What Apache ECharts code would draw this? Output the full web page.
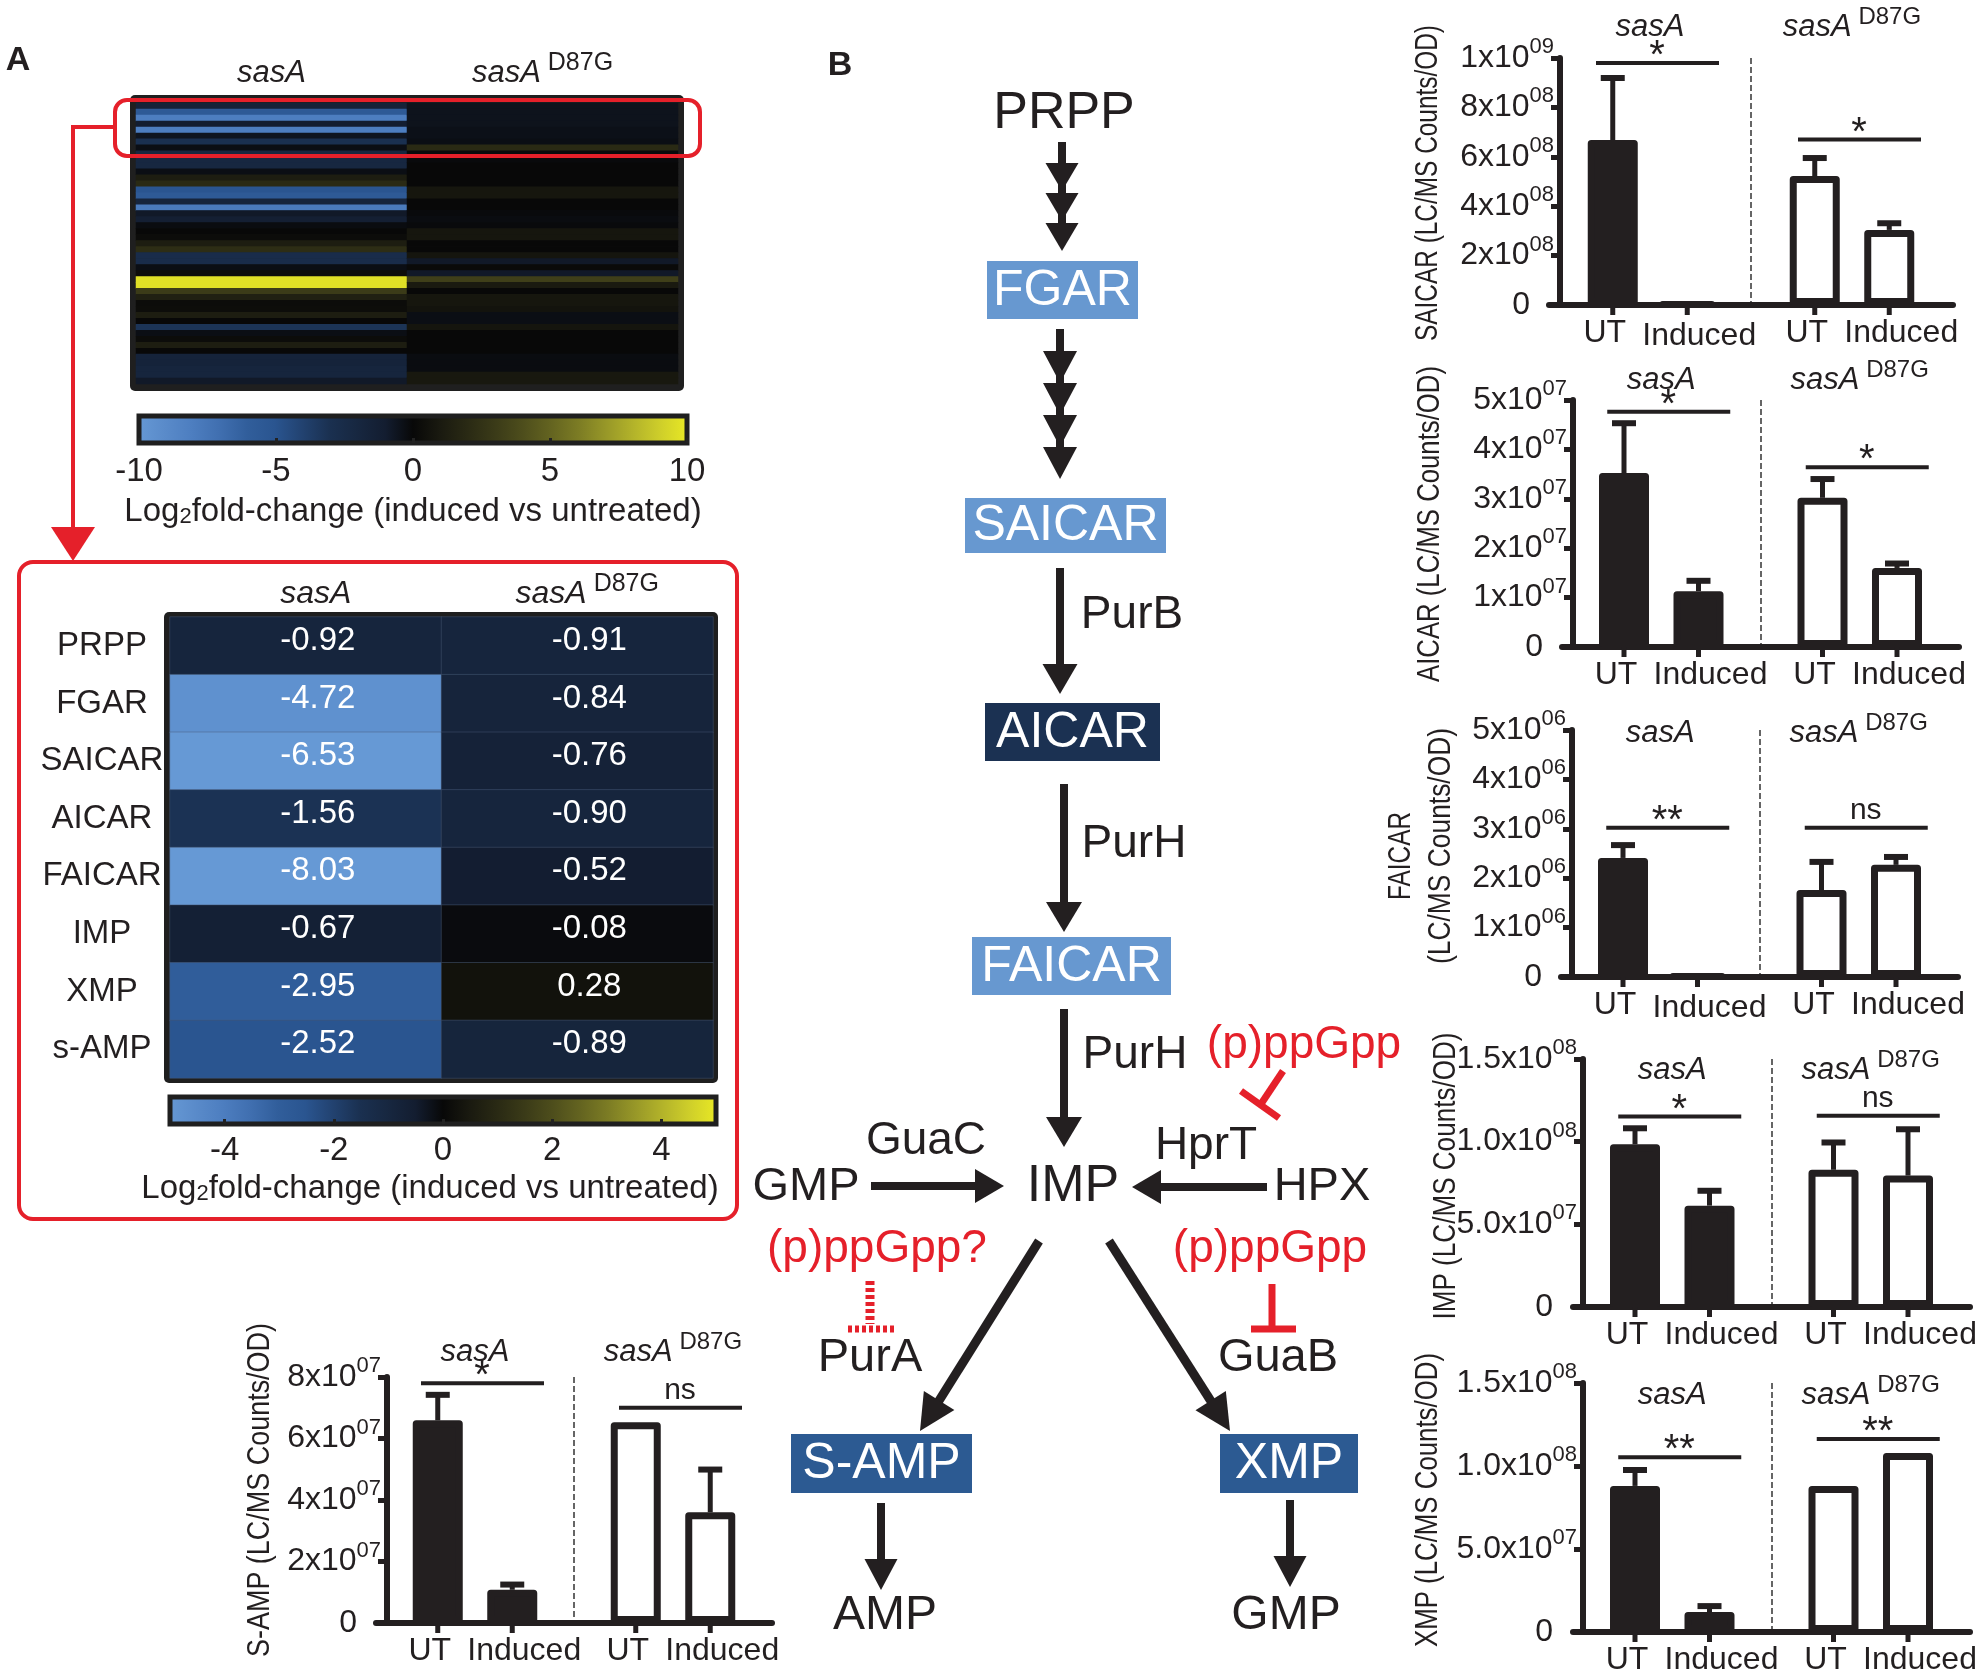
<!DOCTYPE html>
<html>
<head>
<meta charset="utf-8">
<script src="https://cdn.jsdelivr.net/npm/echarts@6/dist/echarts.min.js"></script>
<style>html,body{margin:0;padding:0;background:#fff}#c{width:1979px;height:1674px}</style>
</head>
<body>
<div id="c"></div>
<script>
// ================= DATA =================
const groups = ['sasA', 'sasA D87G'];
const conditions = ['UT', 'Induced'];

// Panel A overview heatmap (log2 fold-change, induced vs untreated), top to bottom
const overviewSasA = [-1.5, -5.5, -8.0, -1.0, -8.0, -0.6, -3.0, -0.3, -2.0, -2.0, -2.0, -0.3, 1.2, 2.0, -5.0, -5.5,
  -1.8, -7.8, -0.8, -1.2, -0.2, 0.0, 0.2, 1.2, 2.2, -2.6, -2.6, -0.3, 0.3, 9.6, 9.6, 3.0, 1.4, 0.2, 0.3, 1.2, 0.0,
  -3.2, -0.3, 0.2, 1.2, 0.0, -1.6, -1.6, -1.8, -1.8, -0.8];
const overviewD87G = [-0.5, -0.5, -0.5, -0.5, -0.4, -0.4, -0.3, 2.0, -0.1, -0.1, 0.0, 0.0, 0.0, 0.0, 0.8, 0.8,
  0.0, 0.0, -0.1, -0.2, -0.1, 0.8, 0.8, 0.0, 0.0, 0.7, -0.8, 0.1, -0.8, 3.2, 1.0, 0.0, 0.8, 0.8, 0.6, -0.3, -0.3,
  0.7, 0.0, 0.0, 0.0, 0.0, -0.2, -0.2, -0.2, 0.9, 0.9];
const overviewRows = overviewSasA.map((_, i) => 'metabolite ' + (i + 1));
const overviewScaleTicks = [-10, -5, 0, 5, 10];

// Panel A pathway heatmap
const pathwayMetabolites = ['PRPP', 'FGAR', 'SAICAR', 'AICAR', 'FAICAR', 'IMP', 'XMP', 's-AMP'];
const pathwaySasA = [-0.92, -4.72, -6.53, -1.56, -8.03, -0.67, -2.95, -2.52];
const pathwayD87G = [-0.91, -0.84, -0.76, -0.90, -0.52, -0.08, 0.28, -0.89];
const pathwayScaleTicks = [-4, -2, 0, 2, 4];

// Bar charts: values per group [sasA, sasA D87G]
const saicarUT = [6.68e8, 5.22e8], saicarUTErr = [2.51e8, 0.73e8];
const saicarInd = [0.04e8, 3.04e8], saicarIndErr = [0, 0.27e8];
const saicarSig = [9.8e8, 6.7e8], saicarSigText = ['*', '*'];

const aicarUT = [3.52e7, 3.02e7], aicarUTErr = [1.01e7, 0.38e7];
const aicarInd = [1.13e7, 1.60e7], aicarIndErr = [0.21e7, 0.09e7];
const aicarSig = [4.76e7, 3.64e7], aicarSigText = ['*', '*'];

const faicarUT = [2.41e6, 1.76e6], faicarUTErr = [0.26e6, 0.57e6];
const faicarInd = [0.02e6, 2.27e6], faicarIndErr = [0, 0.16e6];
const faicarSig = [3.02e6, 3.02e6], faicarSigText = ['**', 'ns'];

const impUT = [0.984e8, 0.83e8], impUTErr = [0.097e8, 0.165e8];
const impInd = [0.613e8, 0.795e8], impIndErr = [0.09e8, 0.28e8];
const impSig = [1.152e8, 1.156e8], impSigText = ['*', 'ns'];

const xmpUT = [0.88e8, 0.88e8], xmpUTErr = [0.096e8, 0];
const xmpInd = [0.12e8, 1.078e8], xmpIndErr = [0.036e8, 0];
const xmpSig = [1.052e8, 1.163e8], xmpSigText = ['**', '**'];

const sampUT = [6.59e7, 6.53e7], sampUTErr = [0.83e7, 0];
const sampInd = [1.08e7, 3.6e7], sampIndErr = [0.17e7, 1.39e7];
const sampSig = [7.8e7, 7.0e7], sampSigText = ['*', 'ns'];

// ================= STYLE / LAYOUT =================
const INK = '#231f20';
const RED = '#e5202a';
const FONT = '"Liberation Sans", Arial, Helvetica, sans-serif';
const heatColors = ['#6699d5', '#5a8bca', '#4d7ec0', '#406fb0', '#315e9b', '#2a5590', '#224270', '#1a3050',
  '#172740', '#131d30', '#080808', '#1a1a10', '#2a2a14', '#3b3b18', '#4e4e1c', '#646420', '#7c7c24', '#989828',
  '#b4b42a', '#d0d02a', '#eaea24'];
const gradient = {
  type: 'linear', x: 0, y: 0, x2: 1, y2: 0,
  colorStops: heatColors.map((c, i) => ({ offset: i / (heatColors.length - 1), color: c }))
};
const BAR_W = 50, BAR_GAP = 0.49, BAR_STEP = BAR_W * (1 + BAR_GAP);

const barPanels = [
  { title: ['SAICAR (LC/MS Counts/OD)'], ut: saicarUT, utErr: saicarUTErr, ind: saicarInd, indErr: saicarIndErr, sig: saicarSig, sigText: saicarSigText, max: 1e9, interval: 2e8, dec: 0 },
  { title: ['AICAR (LC/MS Counts/OD)'], ut: aicarUT, utErr: aicarUTErr, ind: aicarInd, indErr: aicarIndErr, sig: aicarSig, sigText: aicarSigText, max: 5e7, interval: 1e7, dec: 0 },
  { title: ['FAICAR', '(LC/MS Counts/OD)'], ut: faicarUT, utErr: faicarUTErr, ind: faicarInd, indErr: faicarIndErr, sig: faicarSig, sigText: faicarSigText, max: 5e6, interval: 1e6, dec: 0 },
  { title: ['IMP (LC/MS Counts/OD)'], ut: impUT, utErr: impUTErr, ind: impInd, indErr: impIndErr, sig: impSig, sigText: impSigText, max: 1.5e8, interval: 5e7, dec: 1 },
  { title: ['XMP (LC/MS Counts/OD)'], ut: xmpUT, utErr: xmpUTErr, ind: xmpInd, indErr: xmpIndErr, sig: xmpSig, sigText: xmpSigText, max: 1.5e8, interval: 5e7, dec: 1 },
  { title: ['S-AMP (LC/MS Counts/OD)'], ut: sampUT, utErr: sampUTErr, ind: sampInd, indErr: sampIndErr, sig: sampSig, sigText: sampSigText, max: 8e7, interval: 2e7, dec: 0 }
];
// grid placement; titles: [x, y, length] per line of the rotated y-axis title
const barLayout = [
  { left: 1549, top: 58, width: 404, height: 247, off: -11, titleMargin: 31, titles: [[1428, 183, 316]] },
  { left: 1562, top: 400, width: 397, height: 247, off: -11, titleMargin: 20, titles: [[1430, 524, 316]] },
  { left: 1561, top: 730, width: 397, height: 247, off: -11, titleMargin: -3, titles: [[1401, 856, 88], [1441, 846, 236]] },
  { left: 1573, top: 1059, width: 397, height: 248, off: -10, titleMargin: -11, titles: [[1446, 1176, 287]] },
  { left: 1573, top: 1383, width: 397, height: 249, off: -10, titleMargin: -12, titles: [[1428, 1500, 294]] },
  { left: 376, top: 1377, width: 396, height: 246, off: -11, titleMargin: 25, titles: [[260, 1490, 334]] }
];

function groupLabel(v) {
  const parts = v.split(' ');
  return '{i|' + parts[0] + '}' + (parts[1] ? '{s| ' + parts[1] + '}' : '');
}
const groupRich = (fs, sfs) => ({
  i: { fontSize: fs, fontStyle: 'italic', color: INK, fontFamily: FONT, lineHeight: 44 },
  s: { fontSize: sfs, color: INK, fontFamily: FONT, verticalAlign: 'top' }
});
function sciFormatter(dec) {
  return function (v) {
    if (v === 0) return '{m|0}{p| }';
    const e = Math.floor(Math.log10(v) + 1e-9);
    const m = v / Math.pow(10, e);
    return '{m|' + m.toFixed(dec) + 'x10}{e|' + String(e).padStart(2, '0') + '}';
  };
}
function errorBarRender(side) {
  return function (params, api) {
    const gi = api.value(0), m = api.value(1), e = api.value(2);
    const c = api.coord([gi, m]);
    const t = api.coord([gi, m + e]);
    const z0 = api.coord([gi, 0]);
    const x = c[0] + side * BAR_STEP / 2;
    const ch = [{ type: 'line', shape: { x1: x, y1: z0[1], x2: x, y2: z0[1] + 10 }, style: { stroke: INK, lineWidth: 5 } }];
    if (e > 0) {
      ch.push({ type: 'line', shape: { x1: x, y1: c[1], x2: x, y2: t[1] }, style: { stroke: INK, lineWidth: 5 } });
      ch.push({ type: 'line', shape: { x1: x - 12, y1: t[1], x2: x + 12, y2: t[1] }, style: { stroke: INK, lineWidth: 6 } });
    }
    return { type: 'group', children: ch };
  };
}
function sigRender(texts) {
  return function (params, api) {
    const c = api.coord([api.value(0), api.value(1)]);
    const txt = texts[params.dataIndex];
    const star = txt.indexOf('*') >= 0;
    return {
      type: 'group', children: [
        { type: 'line', shape: { x1: c[0] - 54, y1: c[1], x2: c[0] + 69, y2: c[1] }, style: { stroke: INK, lineWidth: 4 } },
        { type: 'text', x: c[0] + 7, y: c[1] + (star ? -6 : -17),
          style: { text: txt, fill: INK, fontSize: star ? 40 : 30, fontFamily: FONT, align: 'center', verticalAlign: 'middle' } }
      ]
    };
  };
}

// ================= OPTION =================
const grid = [
  { left: 136, top: 103, width: 542, height: 281, outerBoundsMode: 'none' },
  { left: 139, top: 416, width: 548, height: 27, show: true, backgroundColor: gradient, borderColor: '#1f1f1f', borderWidth: 5, outerBoundsMode: 'none' },
  { left: 170, top: 617, width: 543, height: 461, outerBoundsMode: 'none' },
  { left: 170, top: 1097, width: 546, height: 27, show: true, backgroundColor: gradient, borderColor: '#1f1f1f', borderWidth: 5, outerBoundsMode: 'none' }
];
const logName = '{a|Log}{b|2}{a|fold-change (induced vs untreated)}';
const logRich = { a: { fontSize: 33, color: INK, fontFamily: FONT }, b: { fontSize: 22, color: INK, fontFamily: FONT, verticalAlign: 'bottom' } };
const xAxis = [
  { type: 'category', gridIndex: 0, data: groups, position: 'top', axisLine: { show: false }, axisTick: { show: false },
    axisLabel: { interval: 0, margin: 30, verticalAlign: 'middle', formatter: groupLabel, rich: groupRich(31, 25) } },
  { type: 'value', gridIndex: 1, min: -10, max: 10, axisLine: { show: false }, splitLine: { show: false },
    axisTick: { show: true, inside: true, length: 5, customValues: overviewScaleTicks, lineStyle: { color: '#222', width: 3 } },
    axisLabel: { customValues: overviewScaleTicks, fontSize: 33, color: INK, fontFamily: FONT, margin: 12 },
    name: logName, nameLocation: 'middle', nameGap: 52, nameTextStyle: { rich: logRich } },
  { type: 'category', gridIndex: 2, data: groups, position: 'top', axisLine: { show: false }, axisTick: { show: false },
    axisLabel: { interval: 0, margin: 23, verticalAlign: 'middle', formatter: groupLabel, rich: groupRich(32, 25), padding: [0, 0, 0, 20] } },
  { type: 'value', gridIndex: 3, min: -5, max: 5, axisLine: { show: false }, splitLine: { show: false },
    axisTick: { show: true, inside: true, length: 5, customValues: pathwayScaleTicks, lineStyle: { color: '#222', width: 3 } },
    axisLabel: { customValues: pathwayScaleTicks, fontSize: 33, color: INK, fontFamily: FONT, margin: 10 },
    name: logName, nameLocation: 'middle', nameGap: 48, nameTextStyle: { rich: logRich, padding: [0, 26, 0, 0] } }
];
const yAxis = [
  { type: 'category', gridIndex: 0, data: overviewRows, inverse: true, show: false },
  { type: 'value', gridIndex: 1, show: false },
  { type: 'category', gridIndex: 2, data: pathwayMetabolites, inverse: true, axisLine: { show: false }, axisTick: { show: false },
    axisLabel: { interval: 0, align: 'center', margin: 68, fontSize: 33, color: INK, fontFamily: FONT } },
  { type: 'value', gridIndex: 3, show: false }
];
const series = [
  { type: 'heatmap', xAxisIndex: 0, yAxisIndex: 0, z: 2, emphasis: { disabled: true },
    data: overviewSasA.map((v, i) => [0, i, v]).concat(overviewD87G.map((v, i) => [1, i, v])) },
  { type: 'heatmap', xAxisIndex: 2, yAxisIndex: 2, z: 2, emphasis: { disabled: true },
    itemStyle: { borderColor: 'rgba(70,90,120,0.45)', borderWidth: 1 },
    label: { show: true, formatter: p => p.value[2].toFixed(2), color: '#fff', fontSize: 33, fontFamily: FONT, offset: [12, -5] },
    data: pathwaySasA.map((v, i) => [0, i, v]).concat(pathwayD87G.map((v, i) => [1, i, v])) }
];

const gfx = [];
const measureCtx = document.createElement('canvas').getContext('2d');
const TITLE_FS = 31;
measureCtx.font = TITLE_FS + 'px ' + FONT;

barPanels.forEach((p, k) => {
  const L = barLayout[k];
  const gi = 4 + k, xb = 4 + 2 * k, yi = 4 + k;
  grid.push({ left: L.left, top: L.top, width: L.width, height: L.height, outerBoundsMode: 'none' });
  xAxis.push({ type: 'category', gridIndex: gi, data: groups, position: 'bottom',
    axisLine: { show: true, lineStyle: { color: INK, width: 6 } }, axisTick: { show: false }, axisLabel: { show: false },
    splitLine: { show: true, showMinLine: false, showMaxLine: false, lineStyle: { type: 'dashed', color: '#333', width: 1.5 } } });
  xAxis.push({ type: 'category', gridIndex: gi, data: groups, position: 'top', axisLine: { show: false }, axisTick: { show: false },
    axisLabel: { interval: 0, margin: L.titleMargin, verticalAlign: 'middle', formatter: groupLabel, rich: groupRich(31, 24) } });
  yAxis.push({ type: 'value', gridIndex: gi, min: 0, max: p.max, interval: p.interval, offset: L.off,
    axisLine: { show: true, lineStyle: { color: INK, width: 6 } },
    axisTick: { show: true, length: 9, lineStyle: { color: INK, width: 5 } }, splitLine: { show: false },
    axisLabel: { margin: 6, formatter: sciFormatter(p.dec), rich: {
      m: { fontSize: 32, color: INK, fontFamily: FONT, lineHeight: 44 },
      e: { fontSize: 22, color: INK, fontFamily: FONT, verticalAlign: 'top' },
      p: { fontSize: 22, width: 24 } } } });
  const fill = g => (g === 0 ? INK : '#ffffff');
  [[conditions[0], p.ut, p.utErr, -1, [-8, 0]], [conditions[1], p.ind, p.indErr, 1, [12, 0]]].forEach(([name, vals, errs, side, off]) => {
    series.push({ type: 'bar', name: name, xAxisIndex: xb, yAxisIndex: yi, barWidth: BAR_W, barGap: (BAR_GAP * 100) + '%', z: 2,
      emphasis: { disabled: true },
      itemStyle: { borderColor: INK, borderWidth: 7, borderJoin: 'round' },
      label: { show: true, position: 'bottom', distance: 12, formatter: '{a}', fontSize: 32, color: INK, fontFamily: FONT, offset: off },
      data: vals.map((v, g) => ({ value: v, itemStyle: { color: fill(g) } })) });
    series.push({ type: 'custom', xAxisIndex: xb, yAxisIndex: yi, z: 3, silent: true,
      renderItem: errorBarRender(side), encode: { x: 0, y: 1 },
      data: vals.map((v, g) => [g, v, errs[g]]) });
  });
  series.push({ type: 'custom', xAxisIndex: xb, yAxisIndex: yi, z: 3, silent: true,
    renderItem: sigRender(p.sigText), encode: { x: 0, y: 1 },
    data: p.sig.map((v, g) => [g, v]) });
  // rotated, condensed y-axis title (as in the original figure)
  p.title.forEach((t, li) => {
    const [tx, ty, len] = L.titles[li];
    const w = measureCtx.measureText(t).width || len;
    gfx.push({ type: 'text', x: tx, y: ty, rotation: Math.PI / 2, scaleX: len / w, scaleY: 1, z: 20,
      style: { text: t, fill: INK, fontSize: TITLE_FS, fontFamily: FONT, align: 'center', verticalAlign: 'middle' } });
  });
});

// ================= PATHWAY DIAGRAM (panel B) & decorations =================
function txt(t, x, y, fs, color, weight) {
  return { type: 'text', x: x, y: y, z: 20, style: { text: t, fill: color || INK, fontSize: fs, fontWeight: weight || 'normal',
    fontFamily: FONT, align: 'center', verticalAlign: 'middle' } };
}
function box(label, x, y, w, h, color) {
  gfx.push({ type: 'rect', z: 10, shape: { x: x, y: y, width: w, height: h }, style: { fill: color } });
  gfx.push(txt(label, x + w / 2, y + h / 2 + 1, 50, '#ffffff'));
}
function arrow(x1, y1, x2, y2, o) {
  o = o || {};
  const len = o.len || 30, w = o.w || 34, lw = o.lw || 8, heads = o.heads || 1, sp = o.sp || 0;
  const dx = x2 - x1, dy = y2 - y1, d = Math.hypot(dx, dy), ux = dx / d, uy = dy / d, px = -uy, py = ux;
  gfx.push({ type: 'line', z: 10, shape: { x1: x1, y1: y1, x2: x2 - ux * len * 0.8, y2: y2 - uy * len * 0.8 },
    style: { stroke: INK, lineWidth: lw } });
  for (let k = 0; k < heads; k++) {
    const tx = x2 - ux * sp * k, ty = y2 - uy * sp * k, bx = tx - ux * len, by = ty - uy * len;
    gfx.push({ type: 'polygon', z: 11, shape: { points: [[tx, ty], [bx + px * w / 2, by + py * w / 2], [bx - px * w / 2, by - py * w / 2]] },
      style: { fill: INK } });
  }
}
function redLine(x1, y1, x2, y2, lw, dash) {
  gfx.push({ type: 'line', z: 12, shape: { x1: x1, y1: y1, x2: x2, y2: y2 },
    style: { stroke: RED, lineWidth: lw, lineDash: dash || null } });
}

// panel letters
gfx.push(txt('A', 18, 61, 34, INK, 'bold'));
gfx.push(txt('B', 840, 66, 34, INK, 'bold'));
// heatmap frames
gfx.push({ type: 'rect', z: 0, shape: { x: 130, y: 95, width: 554, height: 296, r: 5 }, style: { fill: '#1f1f1f' } });
gfx.push({ type: 'rect', z: 0, shape: { x: 164, y: 612, width: 554, height: 471, r: 5 }, style: { fill: '#1f1f1f' } });
// red call-out
gfx.push({ type: 'rect', z: 50, shape: { x: 115, y: 100, width: 585, height: 56, r: 12 }, style: { fill: 'none', stroke: RED, lineWidth: 4 } });
gfx.push({ type: 'polyline', z: 50, shape: { points: [[115, 127], [73, 127], [73, 532]] }, style: { stroke: RED, lineWidth: 4, fill: null } });
gfx.push({ type: 'polygon', z: 50, shape: { points: [[51, 527], [95, 527], [73, 561]] }, style: { fill: RED } });
gfx.push({ type: 'rect', z: 50, shape: { x: 19, y: 562, width: 718, height: 657, r: 14 }, style: { fill: 'none', stroke: RED, lineWidth: 4 } });

// pathway
gfx.push(txt('PRPP', 1064, 114, 52));
arrow(1062, 142, 1062, 251, { heads: 3, sp: 30, len: 28, w: 33 });
box('FGAR', 987, 261, 151, 58, '#6798d0');
arrow(1060, 329, 1060, 479, { heads: 4, sp: 32, len: 32, w: 34 });
box('SAICAR', 965, 498, 201, 55, '#6798d0');
arrow(1060, 568, 1060, 694, { len: 30, w: 35 });
gfx.push(txt('PurB', 1132, 615, 46));
box('AICAR', 985, 703, 175, 58, '#1b3152');
arrow(1064, 784, 1064, 932, { len: 30, w: 36 });
gfx.push(txt('PurH', 1134, 844, 46));
box('FAICAR', 972, 937, 199, 58, '#6798d0');
arrow(1064, 1009, 1064, 1147, { len: 30, w: 36 });
gfx.push(txt('PurH', 1135, 1055, 46));
gfx.push(txt('(p)ppGpp', 1304, 1045, 46, RED));
redLine(1283, 1071, 1261, 1104, 7);
redLine(1241, 1091, 1279, 1118, 7);
gfx.push(txt('GuaC', 926, 1141, 46));
gfx.push(txt('GMP', 806, 1187, 47));
arrow(871, 1186, 1004, 1186, { len: 29, w: 34 });
gfx.push(txt('IMP', 1073, 1187, 52));
gfx.push(txt('HprT', 1206, 1146, 46));
gfx.push(txt('HPX', 1322, 1187, 47));
arrow(1267, 1187, 1132, 1187, { len: 29, w: 34 });
gfx.push(txt('(p)ppGpp?', 877, 1249, 46, RED));
redLine(870, 1281, 870, 1324, 9, [4, 3]);
redLine(848, 1329, 894, 1329, 7, [4, 3]);
gfx.push(txt('PurA', 870, 1358, 47));
gfx.push(txt('(p)ppGpp', 1270, 1249, 46, RED));
redLine(1272, 1284, 1272, 1327, 7);
redLine(1251, 1329, 1296, 1329, 7);
gfx.push(txt('GuaB', 1278, 1358, 47));
arrow(1039, 1241, 920, 1431, { len: 36, w: 36, lw: 9 });
arrow(1109, 1241, 1230, 1431, { len: 36, w: 36, lw: 9 });
box('S-AMP', 791, 1434, 181, 59, '#2c5a92');
box('XMP', 1220, 1434, 138, 59, '#2c5a92');
arrow(881, 1503, 881, 1590, { len: 31, w: 33 });
arrow(1290, 1500, 1290, 1587, { len: 31, w: 33 });
gfx.push(txt('AMP', 885, 1616, 48));
gfx.push(txt('GMP', 1286, 1616, 48));

const option = {
  animation: false,
  backgroundColor: '#ffffff',
  textStyle: { fontFamily: FONT, color: INK },
  grid: grid,
  xAxis: xAxis,
  yAxis: yAxis,
  visualMap: [
    { type: 'continuous', show: false, min: -10, max: 10, seriesIndex: 0, dimension: 2, inRange: { color: heatColors } },
    { type: 'continuous', show: false, min: -5, max: 5, seriesIndex: 1, dimension: 2, inRange: { color: heatColors } }
  ],
  series: series,
  graphic: { elements: gfx }
};
const chart = echarts.init(document.getElementById('c'), null, { renderer: 'canvas' });
chart.setOption(option);
</script>
</body>
</html>
